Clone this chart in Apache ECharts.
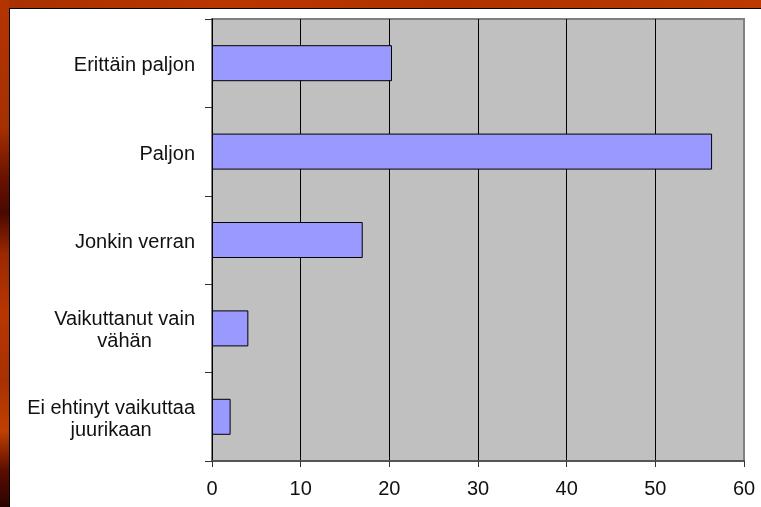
<!DOCTYPE html>
<html>
<head>
<meta charset="utf-8">
<script src="https://cdn.jsdelivr.net/npm/echarts@6/dist/echarts.min.js"></script>
<style>
  html, body { margin: 0; padding: 0; }
  body {
    width: 761px; height: 507px; position: relative; overflow: hidden;
    background: linear-gradient(90deg, #a83000 0%, #b93600 30%, #b03200 60%, #bb3a02 100%);
  }
  /* vasen reuna, tummempi kohdittain */
  #leftStrip {
    position: absolute; left: 0; top: 0; width: 9px; height: 507px;
    background: linear-gradient(180deg, #b43400 0%, #a63000 25%, #6a1200 35%, #4a0800 42%, #9a2800 50%,
      #b83600 62%, #a83000 75%, #c04000 85%, #5a0c00 93%, #2a0400 100%);
  }
  #paper {
    position: absolute; left: 9px; top: 8px; right: 0; bottom: 0;
    background: #fff; border-top: 1px solid #000; border-left: 1px solid #000;
  }
  #chart { position: absolute; left: 0; top: 0; width: 761px; height: 507px; }
</style>
</head>
<body>
<div id="leftStrip"></div>
<div id="paper"></div>
<div id="chart"></div>
<script>
// vastausvaihtoehdot ja osuudet (%)
const categories = ['Erittäin paljon', 'Paljon', 'Jonkin verran', 'Vaikuttanut vain\nvähän', 'Ei ehtinyt vaikuttaa\njuurikaan']
const values = [20.3, 56.4, 17.0, 4.1, 2.1]
const xTicks = [0, 10, 20, 30, 40, 50, 60]

const font = "'Liberation Sans', Arial, sans-serif"
const chart = echarts.init(document.getElementById('chart'))

chart.setOption({
  animation: false,
  backgroundColor: 'transparent',
  grid: {
    left: 212, right: 17, top: 19, bottom: 46,
    show: true,
    backgroundColor: '#c0c0c0',
    borderColor: '#808080',
    borderWidth: 2
  },
  xAxis: {
    type: 'value',
    min: xTicks[0],
    max: xTicks[xTicks.length - 1],
    interval: 10,
    axisLine: { show: true, lineStyle: { color: '#555', width: 2 } },
    axisTick: { show: true, length: 6, lineStyle: { color: '#333' } },
    axisLabel: { color: '#111', fontSize: 20, fontFamily: font, margin: 18 },
    splitLine: { show: true, showMinLine: false, showMaxLine: false, lineStyle: { color: '#000', width: 1 } }
  },
  yAxis: {
    type: 'category',
    inverse: true,
    data: categories,
    axisLine: { show: true, lineStyle: { color: '#000', width: 1 } },
    axisTick: { show: true, length: 7, lineStyle: { color: '#333' } },
    axisLabel: {
      margin: 17,
      padding: [5, 0, 0, 0], // hieman alemmas kuten alkuperäisessä
      formatter: function (v) {
        return v.split('\n').map(s => '{c|' + s + '}').join('\n')
      },
      rich: {
        c: { align: 'center', color: '#111', fontSize: 20, lineHeight: 22, fontFamily: font }
      }
    }
  },
  series: [{
    type: 'bar',
    data: values,
    barWidth: 36,
    itemStyle: { color: '#9999ff', borderColor: '#000', borderWidth: 1 }
  }]
})
</script>
</body>
</html>
